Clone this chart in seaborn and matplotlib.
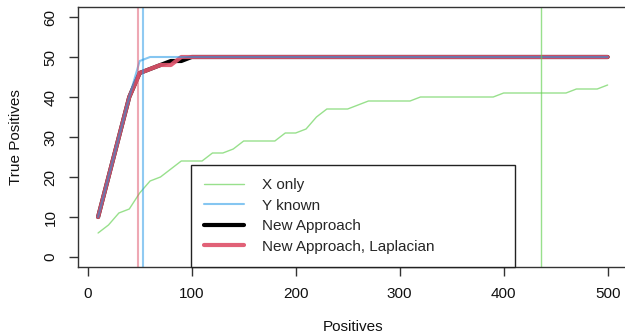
import numpy as np
import pandas as pd
import matplotlib
matplotlib.use("Agg")
import matplotlib.pyplot as plt
import seaborn as sns
from matplotlib.lines import Line2D

# Number of positives considered
positives = list(range(10, 501, 10))

# True positives found by each method
x_only = [6, 8, 11, 12, 16, 19, 20, 22, 24, 24,
          24, 26, 26, 27, 29, 29, 29, 29, 31, 31,
          32, 35, 37, 37, 37, 38, 39, 39, 39, 39,
          39, 40, 40, 40, 40, 40, 40, 40, 40, 41,
          41, 41, 41, 41, 41, 41, 42, 42, 42, 43]
y_known = [10, 20, 30, 40, 49] + [50] * 45
new_approach = [10, 20, 30, 40, 46, 47, 48, 49, 49] + [50] * 41
new_laplacian = [10, 20, 30, 40, 46, 47, 48, 48, 50] + [50] * 41

# Cut-off markers (positives)
cut_laplacian = 48
cut_y_known = 53
cut_x_only = 436

labels = ["X only", "Y known", "New Approach", "New Approach, Laplacian"]

sns.set_style("white")
plt.rcParams["font.family"] = ["Liberation Sans", "DejaVu Sans"]

RED = "#DF536B"
GREEN = "#61D04F"
BLUE = "#2297E6"

fig = plt.figure(figsize=(6.25, 3.33), dpi=100)
ax = fig.add_axes([77.7 / 625, 1 - 266.6 / 333, 550.3 / 625, 259.2 / 333])

df = pd.DataFrame({
    "positives": positives,
    "x_only": x_only,
    "y_known": y_known,
    "new": new_approach,
    "lap": new_laplacian,
})

sns.lineplot(data=df, x="positives", y="new", color="black", linewidth=3.0, ax=ax)
sns.lineplot(data=df, x="positives", y="lap", color=RED, alpha=0.92, linewidth=3.0, ax=ax)
sns.lineplot(data=df, x="positives", y="y_known", color=BLUE, alpha=0.55, linewidth=1.5, ax=ax)
sns.lineplot(data=df, x="positives", y="x_only", color=GREEN, alpha=0.65, linewidth=1.0, ax=ax)

ax.axvline(cut_laplacian, color=RED, alpha=0.5, linewidth=1.5)
ax.axvline(cut_y_known, color=BLUE, alpha=0.5, linewidth=1.5)
ax.axvline(cut_x_only, color=GREEN, alpha=0.65, linewidth=1.0)

ax.set_xlim(-9.6, 519.6)
ax.set_ylim(-2.4, 62.4)
ax.set_xticks([0, 100, 200, 300, 400, 500])
ax.set_yticks([0, 10, 20, 30, 40, 50, 60])

for s in ax.spines.values():
    s.set_color("#333333")
    s.set_linewidth(1.0)

ax.tick_params(axis="both", which="major", direction="out", length=6.5, width=1.0,
               color="#333333", labelsize=11, pad=8, labelcolor="#111111",
               bottom=True, left=True)
for lab in ax.get_yticklabels():
    lab.set_rotation(90)
    lab.set_va("center")

ax.set_xlabel("Positives", fontsize=11, labelpad=14, color="#111111")
ax.set_ylabel("True Positives", fontsize=11, labelpad=15, color="#111111")

handles = [
    Line2D([], [], color=GREEN, alpha=0.65, linewidth=1.0),
    Line2D([], [], color=BLUE, alpha=0.55, linewidth=1.5),
    Line2D([], [], color="black", linewidth=3.0),
    Line2D([], [], color=RED, alpha=0.92, linewidth=3.0),
]
x0 = (191 - 77.7) / 550.3
x1 = (515 - 77.7) / 550.3
leg = ax.legend(handles, labels, loc="lower left",
                bbox_to_anchor=(x0, 0.0, x1 - x0, 0.39), mode="expand",
                fontsize=11, frameon=True, fancybox=False, framealpha=1,
                edgecolor="#222222", borderpad=0.85, labelspacing=0.42,
                handlelength=2.6, handletextpad=1.2, borderaxespad=0)
leg.get_frame().set_linewidth(1.0)

fig.savefig("out.png", dpi=100)
